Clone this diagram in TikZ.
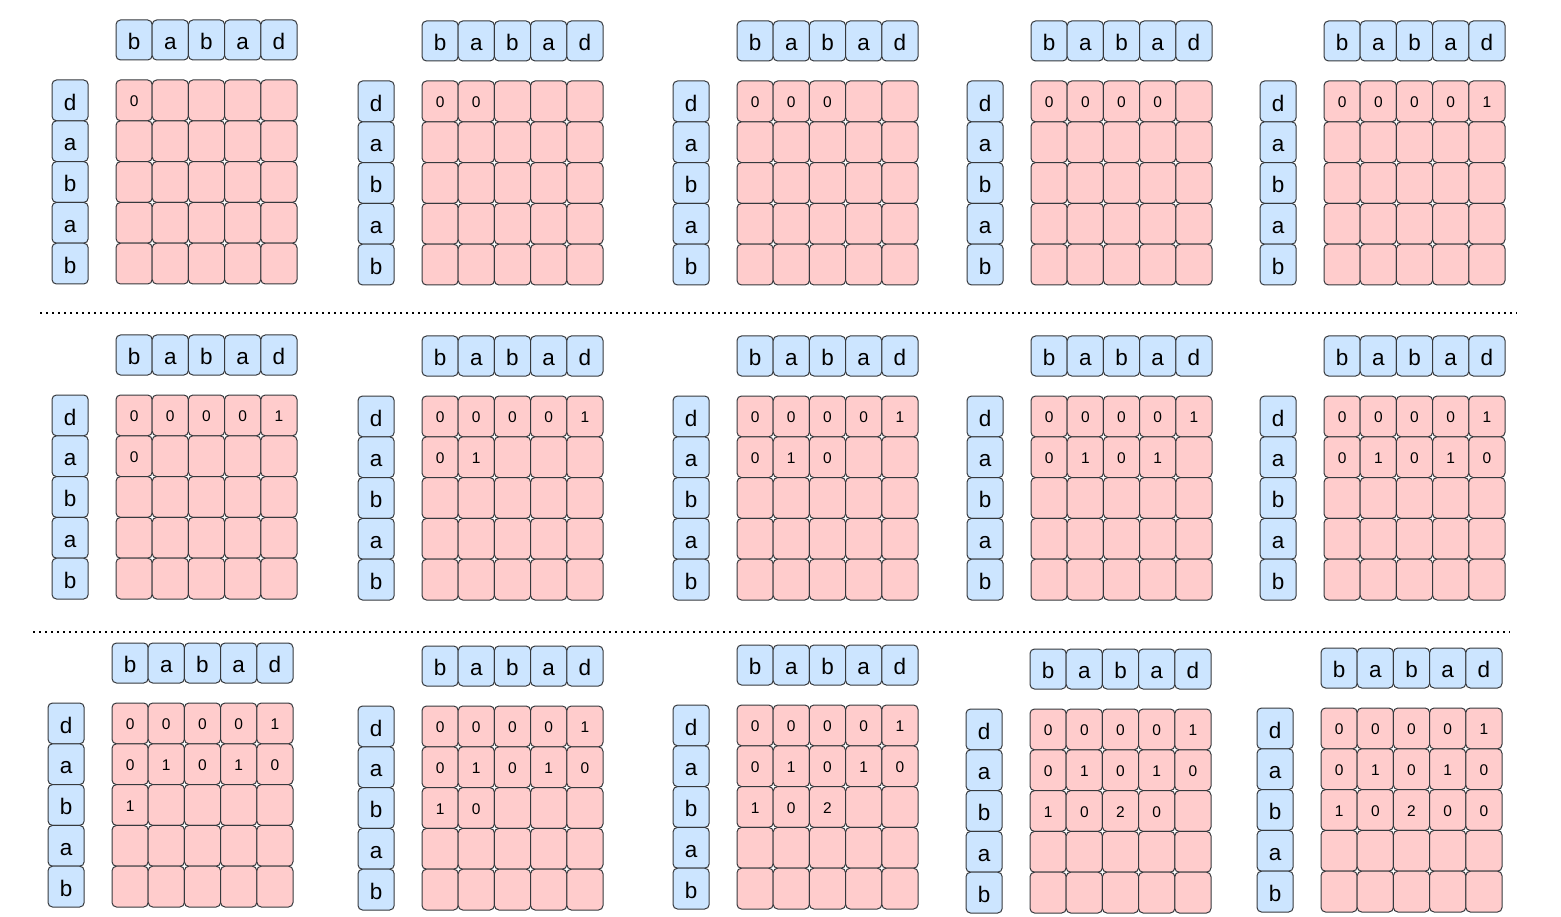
\documentclass[tikz,border=0pt]{standalone}
\usepackage{fontspec}
\setmainfont{Liberation Sans}
\definecolor{cellpink}{HTML}{FFCCCC}
\definecolor{cellblue}{HTML}{CCE5FF}
\definecolor{celledge}{HTML}{36393D}
\begin{document}
\begin{tikzpicture}[x=1pt,y=-1pt,
	charcell/.style={ draw=celledge, fill=cellblue, rounded corners=4.5pt, line width=1pt, minimum width=36.2pt, minimum height=40pt, inner sep=0pt, text height=19.4pt, text depth=0pt, font=\fontsize{22.5}{24}\selectfont },
	sidecell/.style={ charcell, minimum height=40.8pt },
	dpcell/.style={ draw=celledge, fill=cellpink, rounded corners=4.5pt, line width=1pt, minimum width=36.2pt, minimum height=40.8pt, inner sep=0pt },
	dpval/.style={ inner sep=0pt, text height=12.6pt, text depth=0pt, font=\fontsize{15.5}{17}\selectfont },
	sepline/.style={ line width=1.8pt, dash pattern=on 1.8pt off 4.2pt }
]
\useasboundingbox (0,0) rectangle (1561,917);

\foreach \n/\X/\Y/\vals in {
	1/116/20/{1/1/0},
	2/422/21/{1/1/0,1/2/0},
	3/737/21/{1/1/0,1/2/0,1/3/0},
	4/1031/21/{1/1/0,1/2/0,1/3/0,1/4/0},
	5/1324/21/{1/1/0,1/2/0,1/3/0,1/4/0,1/5/1},
	6/116/335/{1/1/0,1/2/0,1/3/0,1/4/0,1/5/1,2/1/0},
	7/422/336/{1/1/0,1/2/0,1/3/0,1/4/0,1/5/1,2/1/0,2/2/1},
	8/737/336/{1/1/0,1/2/0,1/3/0,1/4/0,1/5/1,2/1/0,2/2/1,2/3/0},
	9/1031/336/{1/1/0,1/2/0,1/3/0,1/4/0,1/5/1,2/1/0,2/2/1,2/3/0,2/4/1},
	10/1324/336/{1/1/0,1/2/0,1/3/0,1/4/0,1/5/1,2/1/0,2/2/1,2/3/0,2/4/1,2/5/0},
	11/112/643/{1/1/0,1/2/0,1/3/0,1/4/0,1/5/1,2/1/0,2/2/1,2/3/0,2/4/1,2/5/0,3/1/1},
	12/422/646/{1/1/0,1/2/0,1/3/0,1/4/0,1/5/1,2/1/0,2/2/1,2/3/0,2/4/1,2/5/0,3/1/1,3/2/0},
	13/737/645/{1/1/0,1/2/0,1/3/0,1/4/0,1/5/1,2/1/0,2/2/1,2/3/0,2/4/1,2/5/0,3/1/1,3/2/0,3/3/2},
	14/1030/649/{1/1/0,1/2/0,1/3/0,1/4/0,1/5/1,2/1/0,2/2/1,2/3/0,2/4/1,2/5/0,3/1/1,3/2/0,3/3/2,3/4/0},
	15/1321/648/{1/1/0,1/2/0,1/3/0,1/4/0,1/5/1,2/1/0,2/2/1,2/3/0,2/4/1,2/5/0,3/1/1,3/2/0,3/3/2,3/4/0,3/5/0}} {
	% string along the top
	\foreach \ch [count=\i] in {b,a,b,a,d}
		\node (t\n-\i) at ({\X+(\i-0.5)*36.2},{\Y+20}) [charcell] {\ch};
	% reversed string down the side
	\foreach \ch [count=\j] in {d,a,b,a,b}
		\node (s\n-\j) at ({\X-45.9},{\Y+60+(\j-0.5)*40.8}) [sidecell] {\ch};
	% table
	\foreach \j in {1,...,5}
		\foreach \i in {1,...,5}
			\node (g\n-\j-\i) at ({\X+(\i-0.5)*36.2},{\Y+60+(\j-0.5)*40.8}) [dpcell] {};
	\foreach \r/\c/\v in \vals
		\node (v\n-\r-\c) at (g\n-\r-\c) [dpval] {\v};
}

\coordinate (s1a) at (40,313);
\coordinate (s1b) at (1517,313);
\coordinate (s2a) at (33,632);
\coordinate (s2b) at (1510,632);
\draw [sepline] (s1a) -- (s1b);
\draw [sepline] (s2a) -- (s2b);

\end{tikzpicture}
\end{document}
